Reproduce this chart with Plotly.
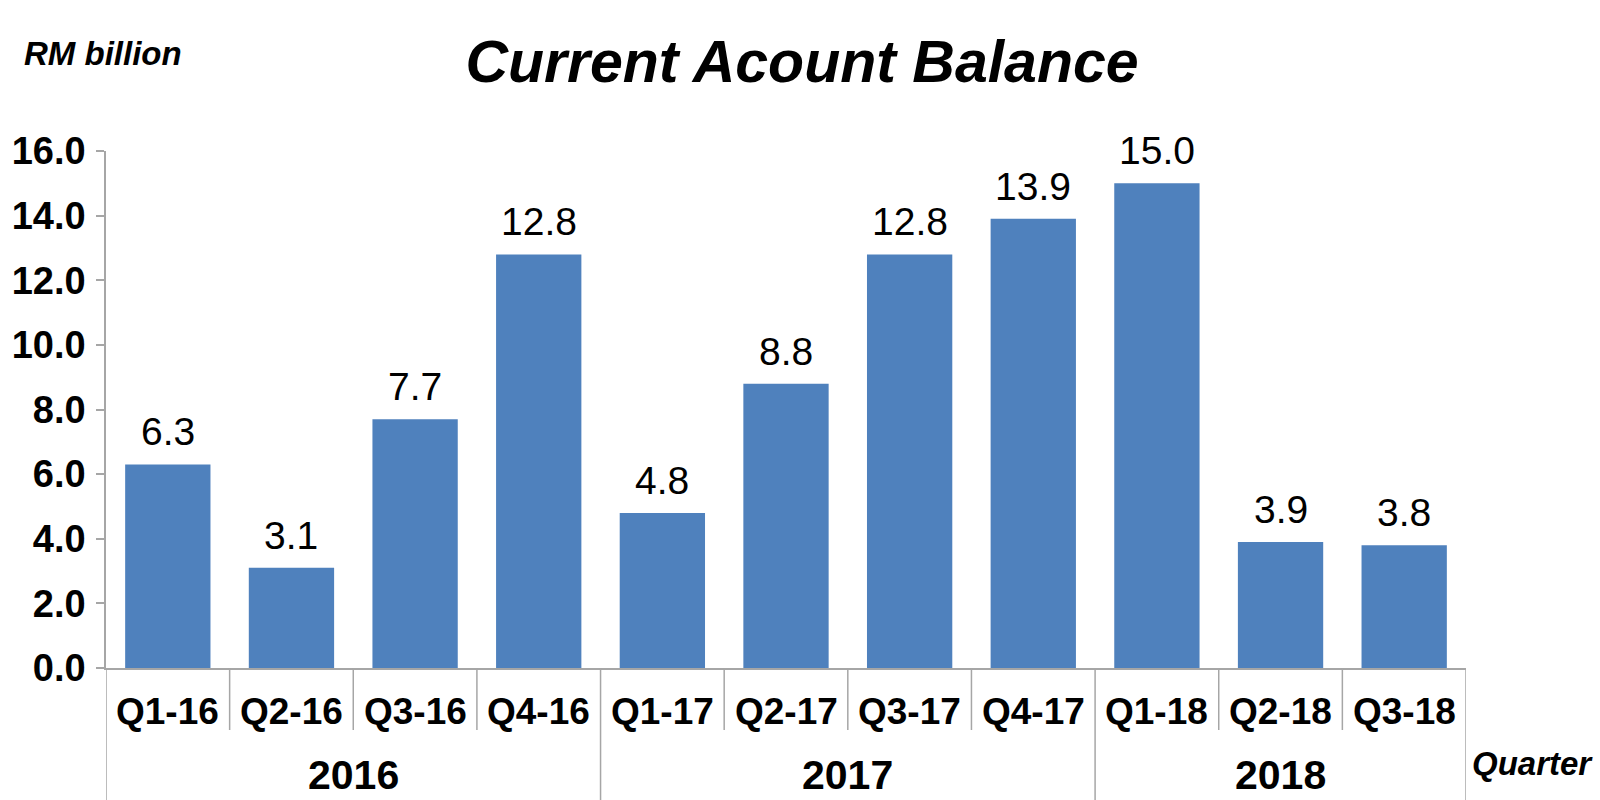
import plotly.graph_objects as go

# Quarterly current account balance, RM billion
quarters = ["Q1-16", "Q2-16", "Q3-16", "Q4-16",
            "Q1-17", "Q2-17", "Q3-17", "Q4-17",
            "Q1-18", "Q2-18", "Q3-18"]
balance = [6.3, 3.1, 7.7, 12.8, 4.8, 8.8, 12.8, 13.9, 15.0, 3.9, 3.8]
years = ["2016", "2017", "2018"]
year_counts = [4, 4, 3]
y_ticks = [0, 2, 4, 6, 8, 10, 12, 14, 16]

FONT = "Liberation Sans, Arial, sans-serif"
BAR_COLOR = "#4F81BD"
LINE_COLOR = "#A6A6A6"

x_idx = list(range(len(quarters)))

fig = go.Figure(
    go.Bar(
        x=x_idx,
        y=balance,
        marker=dict(color=BAR_COLOR, line=dict(width=0)),
        width=0.69,
        hovertemplate="%{customdata}: %{y:.1f}<extra></extra>",
        customdata=quarters,
    )
)

# plot area geometry (pixels)
L, R = 104, 1466
TOP, BOTTOM = 151, 668
H = BOTTOM - TOP
W = R - L


def py(pix):
    """Convert a page y-pixel to paper coordinates."""
    return (BOTTOM - pix) / H


def px(pix):
    """Convert a page x-pixel to paper coordinates."""
    return (pix - L) / W


shapes = []
annotations = []

# value labels above each bar
for i, v in enumerate(balance):
    annotations.append(dict(
        x=i, y=v, xref="x", yref="y", text=f"{v:.1f}", showarrow=False,
        font=dict(family=FONT, size=39, color="#000000"),
        xanchor="center", yanchor="bottom", yshift=9,
    ))

# category separators: short within a year, long at year boundaries
boundaries = [0]
for c in year_counts:
    boundaries.append(boundaries[-1] + c)
for i in range(len(quarters) + 1):
    long_line = i in boundaries
    shapes.append(dict(
        type="line", xref="x", yref="paper",
        x0=i - 0.5, x1=i - 0.5,
        y0=0, y1=py(800 if long_line else 730),
        line=dict(color=LINE_COLOR, width=1.5),
    ))

# quarter labels
for i, q in enumerate(quarters):
    annotations.append(dict(
        x=i, y=py(711), xref="x", yref="paper", text=q, showarrow=False,
        font=dict(family=FONT, size=37, color="#000000", weight="bold"),
        xanchor="center", yanchor="middle",
    ))

# year labels centred under their quarters
for k, yr in enumerate(years):
    centre = (boundaries[k] + boundaries[k + 1] - 1) / 2
    annotations.append(dict(
        x=centre, y=py(775), xref="x", yref="paper", text=yr, showarrow=False,
        font=dict(family=FONT, size=41, color="#000000", weight="bold"),
        xanchor="center", yanchor="middle",
    ))

# unit and axis captions
annotations.append(dict(
    x=px(101), y=py(53), xref="paper", yref="paper",
    text="RM billion", showarrow=False,
    font=dict(family=FONT, size=33, color="#000000", weight="bold", style="italic"),
    xanchor="center", yanchor="middle",
))
annotations.append(dict(
    x=px(1533), y=py(763), xref="paper", yref="paper",
    text="Quarter", showarrow=False,
    font=dict(family=FONT, size=33, color="#000000", weight="bold", style="italic"),
    xanchor="center", yanchor="middle",
))

fig.update_layout(
    width=1600, height=800,
    margin=dict(l=L, r=1600 - R, t=TOP, b=800 - BOTTOM, pad=0),
    paper_bgcolor="white", plot_bgcolor="white",
    showlegend=False,
    title=dict(
        text="Current Acount Balance",
        x=802 / 1600, y=1 - 61 / 800, xref="container", yref="container",
        xanchor="center", yanchor="middle",
        font=dict(family=FONT, size=59, color="#000000", weight="bold", style="italic"),
    ),
    xaxis=dict(
        range=[-0.5, len(quarters) - 0.5],
        showticklabels=False, ticks="", showgrid=False, zeroline=False,
        showline=True, linecolor=LINE_COLOR, linewidth=1.5,
    ),
    yaxis=dict(
        range=[0, 16], tickvals=y_ticks, tickformat=".1f",
        ticks="outside", ticklen=8, tickcolor=LINE_COLOR, tickwidth=1.5,
        showline=True, linecolor=LINE_COLOR, linewidth=1.5,
        showgrid=False, zeroline=False,
        tickfont=dict(family=FONT, size=38, color="#000000", weight="bold"),
        ticklabelstandoff=3,
    ),
    shapes=shapes,
    annotations=annotations,
)

fig.write_html("out.html")
